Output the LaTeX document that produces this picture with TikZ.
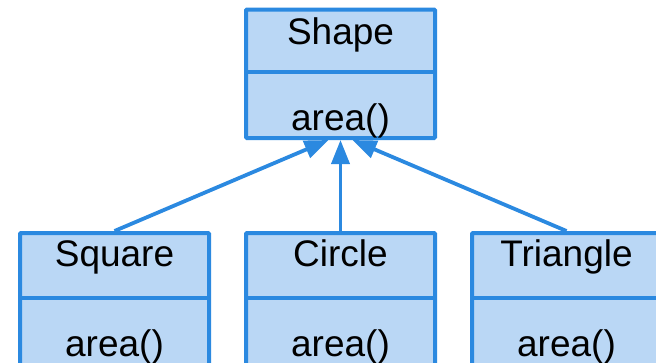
\documentclass[tikz,border=0pt]{standalone}
\usepackage{fontspec}
\setmainfont{Liberation Sans}
\usetikzlibrary{arrows.meta}

\definecolor{umlblue}{RGB}{43,137,224}
\definecolor{umlfill}{RGB}{186,215,245}

\tikzset{
	classbox/.style={draw=umlblue, fill=umlfill, line width=4pt, rounded corners=1pt,
		minimum width=189pt, minimum height=128.5pt, inner sep=0pt},
	classline/.style={draw=umlblue, line width=4pt},
	classtext/.style={anchor=base, inner sep=0pt, font=\fontsize{37}{44}\selectfont},
	inherit/.style={draw=umlblue, fill=umlblue, line width=3.8pt, -{Triangle[length=24pt,width=18pt]}}
}

\begin{document}
\begin{tikzpicture}[x=1pt,y=-1pt]
	\useasboundingbox (0,0) rectangle (656,362);

	% Base class
	\node[classbox] (shape) at (340.5,73.75) {};
	\draw[classline] ([yshift=2pt]shape.west) -- ([yshift=2pt]shape.east);
	\node[classtext] (shapename) at ([yshift=-37pt]shape.north) {Shape};
	\node[classtext] (shapearea) at ([yshift=10pt]shape.south) {area()};

	% Derived classes (cut off at the bottom)
	%Square
	\node[classbox, minimum height=136pt] (square) at (114.5,301) {};
	\draw[classline] ([yshift=3.5pt]square.west) -- ([yshift=3.5pt]square.east);
	\node[classtext] (squarename) at ([yshift=-35pt]square.north) {Square};
	\node[classtext] (squarearea) at ([yshift=15pt]square.south) {area()};
	%Circle
	\node[classbox, minimum height=136pt] (circle) at (340.5,301) {};
	\draw[classline] ([yshift=3.5pt]circle.west) -- ([yshift=3.5pt]circle.east);
	\node[classtext] (circlename) at ([yshift=-35pt]circle.north) {Circle};
	\node[classtext] (circlearea) at ([yshift=15pt]circle.south) {area()};
	%Triangle
	\node[classbox, minimum height=136pt] (triangle) at (566.5,301) {};
	\draw[classline] ([yshift=3.5pt]triangle.west) -- ([yshift=3.5pt]triangle.east);
	\node[classtext] (trianglename) at ([yshift=-35pt]triangle.north) {Triangle};
	\node[classtext] (trianglearea) at ([yshift=15pt]triangle.south) {area()};

	% Inheritance arrows
	\draw[inherit] (square.north) -- ([xshift=-12pt]shape.south);
	\draw[inherit] (circle.north) -- (shape.south);
	\draw[inherit] (triangle.north) -- ([xshift=12pt]shape.south);

\end{tikzpicture}
\end{document}
